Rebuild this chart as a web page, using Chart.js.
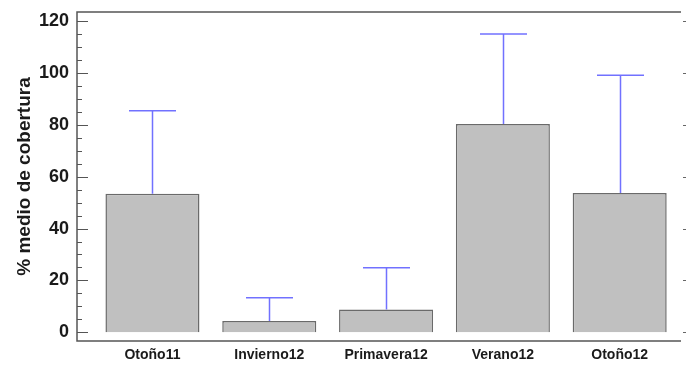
<!DOCTYPE html>
<html>
<head>
<meta charset="utf-8">
<script src="https://cdn.jsdelivr.net/npm/chart.js@4"></script>
<style>
  html, body { margin: 0; padding: 0; background: #fff; }
  #wrap { width: 686px; height: 369px; }
</style>
</head>
<body>
<div id="wrap"><canvas id="c" width="686" height="369"></canvas></div>
<script>
// Seasons sampled
const categories = ['Otoño11', 'Invierno12', 'Primavera12', 'Verano12', 'Otoño12'];
// Mean cover (%) per season
const meanCover = [53.4, 4.3, 8.8, 80.4, 53.7];
// Standard deviation (upper error bar) per season
const sdCover = [32.1, 9.0, 16.1, 34.7, 45.5];
// Left axis tick values
const yTicks = [0, 20, 40, 60, 80, 100, 120];

const FONT = '"Liberation Sans", Arial, Helvetica, sans-serif';
const FRAME = '#555555';

// Frame, inward tick marks and the short marks on the right edge
const framePlugin = {
  id: 'frame',
  afterDraw(chart) {
    const { ctx, chartArea: a, scales: { y } } = chart;
    ctx.save();
    ctx.strokeStyle = FRAME;
    ctx.lineWidth = 1.5;
    ctx.beginPath();
    ctx.moveTo(a.right, a.top); ctx.lineTo(a.left, a.top);
    ctx.lineTo(a.left, a.bottom); ctx.lineTo(a.right, a.bottom);
    ctx.stroke();
    ctx.lineWidth = 1.2;
    ctx.beginPath();
    for (let v = 0; v <= 120; v += 5) {
      const py = Math.round(y.getPixelForValue(v)) + 0.5;
      const len = (v % 20 === 0) ? 11 : 5;
      ctx.moveTo(a.left, py); ctx.lineTo(a.left + len, py);
    }
    ctx.stroke();
    ctx.lineWidth = 1;
    ctx.strokeStyle = '#666';
    ctx.beginPath();
    yTicks.forEach(v => {
      const py = Math.round(y.getPixelForValue(v)) + 0.5;
      ctx.moveTo(a.right + 2, py); ctx.lineTo(a.right + 5, py);
    });
    ctx.stroke();
    ctx.restore();
  }
};

// Upper standard-deviation whiskers
const errorPlugin = {
  id: 'errorBars',
  afterDatasetsDraw(chart) {
    const { ctx, scales: { y } } = chart;
    const meta = chart.getDatasetMeta(0);
    ctx.save();
    ctx.strokeStyle = 'rgba(105,105,255,0.95)';
    ctx.lineWidth = 1.5;
    meta.data.forEach((bar, i) => {
      const x = Math.round(bar.x) + 0.5;
      const yTop = y.getPixelForValue(meanCover[i] + sdCover[i]);
      const yBase = y.getPixelForValue(meanCover[i]);
      const half = bar.width / 4;
      ctx.beginPath();
      ctx.moveTo(x, yBase); ctx.lineTo(x, yTop);
      ctx.moveTo(x - half, yTop); ctx.lineTo(x + half, yTop);
      ctx.stroke();
    });
    ctx.restore();
  }
};

new Chart(document.getElementById('c'), {
  type: 'bar',
  data: {
    datasets: [{
      data: meanCover.map((v, i) => ({ x: i, y: v })),
      backgroundColor: '#c0c0c0',
      borderColor: '#6a6a6a',
      borderWidth: 1.5,
      barPercentage: 0.805,
      categoryPercentage: 1.0
    }]
  },
  options: {
    responsive: false,
    animation: false,
    layout: { autoPadding: false, padding: { top: 12, right: 5, left: 0, bottom: 0 } },
    plugins: { legend: { display: false }, tooltip: { enabled: false } },
    scales: {
      x: {
        type: 'linear',
        offset: false,
        min: -0.646,
        max: 4.525,
        grid: { display: false, drawTicks: false, offset: false },
        border: { display: false },
        afterFit(s) { s.height = 28; s.paddingLeft = 0; s.paddingRight = 0; },
        afterBuildTicks(s) { s.ticks = categories.map((_, i) => ({ value: i })); },
        ticks: {
          padding: 6,
          autoSkip: false,
          maxRotation: 0,
          color: '#1a1a1a',
          font: { family: FONT, size: 14, weight: 'bold' },
          callback: (v) => categories[v]
        }
      },
      y: {
        min: -3.4,
        max: 123.6,
        grid: { display: false, drawTicks: false },
        border: { display: false },
        afterFit(s) { s.width = 77; s.paddingTop = 0; s.paddingBottom = 0; },
        afterBuildTicks(s) { s.ticks = yTicks.map(v => ({ value: v })); },
        ticks: {
          padding: 8,
          color: '#1a1a1a',
          font: { family: FONT, size: 18, weight: 'bold' }
        },
        title: {
          display: true,
          text: '% medio de cobertura',
          color: '#1a1a1a',
          padding: { top: 13, bottom: 0 },
          font: { family: FONT, size: 19, weight: 'bold' }
        }
      }
    }
  },
  plugins: [framePlugin, errorPlugin]
});
</script>
</body>
</html>
